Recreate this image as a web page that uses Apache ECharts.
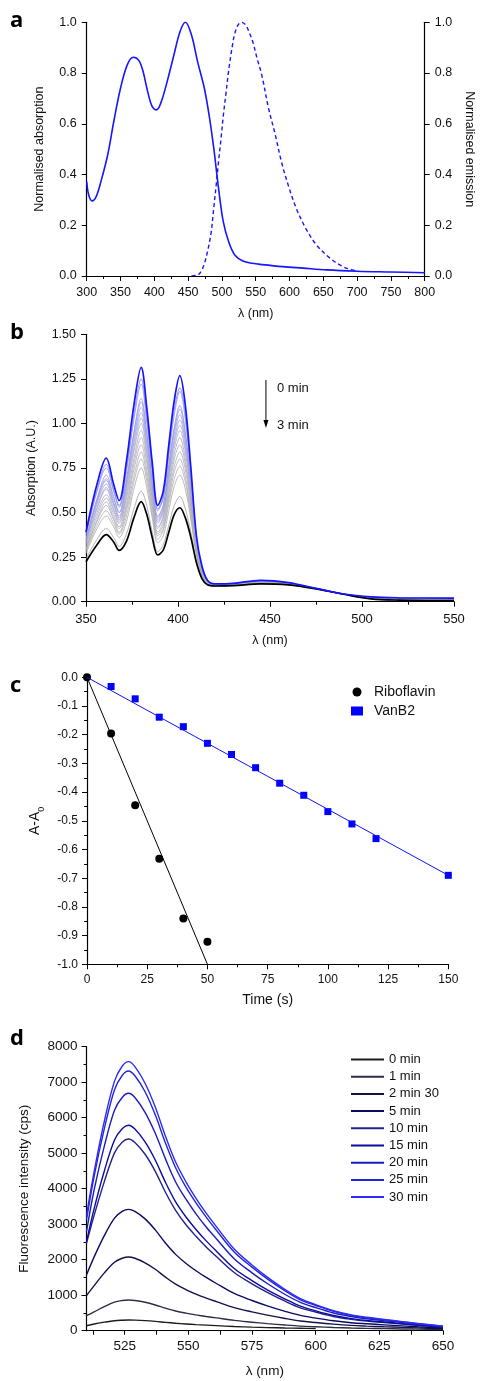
<!DOCTYPE html>
<html><head><meta charset="utf-8">
<script src="https://cdn.jsdelivr.net/npm/echarts@6/dist/echarts.min.js"></script>
<style>html,body{margin:0;padding:0;background:#fff}#c{width:484px;height:1381px}</style>
</head><body><div id="c"></div>
<script>
// ---------- Panel a ----------
const absWl  = [300,303,308,314,321,331,340,350,360,369,377,383,389,395,399,403,407,412,419,429,438,446,455,464,474,481,488,495,502,510,519,531,545,560,590,620,655,700,750,800];
const absVal = [0.372,0.319,0.296,0.313,0.372,0.477,0.608,0.74,0.832,0.862,0.85,0.81,0.74,0.68,0.66,0.655,0.665,0.70,0.766,0.871,0.963,1.0,0.95,0.845,0.74,0.635,0.503,0.346,0.214,0.135,0.083,0.059,0.05,0.045,0.037,0.031,0.024,0.019,0.016,0.013];
const emWl   = [455,462,467,473,479,484,488,492,495,499,502,506,510,515,519,524,529,535,540,546,552,559,569,579,588,598,610,624,640,660,679,693,698];
const emVal  = [0,0.003,0.01,0.04,0.1,0.17,0.27,0.37,0.45,0.55,0.63,0.72,0.81,0.9,0.955,0.99,1.0,0.99,0.963,0.92,0.858,0.792,0.661,0.556,0.451,0.359,0.267,0.188,0.122,0.07,0.037,0.024,0.02];

// ---------- Panel b ----------
const bWl   = [350,356,361,365,368,372,376,380,383,386,389,392,395,398,401,404,407,410,413,416,420,430,445,460,475,490,505,520,550];
const b0min = [0.39,0.66,0.805,0.66,0.567,0.79,1.10,1.315,1.09,0.78,0.54,0.62,0.88,1.13,1.268,1.10,0.75,0.37,0.2,0.12,0.10,0.103,0.12,0.107,0.075,0.043,0.027,0.022,0.02];
const bMid1  = [0.38,0.63,0.77,0.63,0.54,0.75,1.05,1.25,1.04,0.74,0.52,0.59,0.84,1.08,1.20,1.05,0.72,0.36,0.19,0.12,0.10,0.10,0.12,0.105,0.075,0.043,0.026,0.021,0.019];
const bMid2  = [0.37,0.62,0.75,0.62,0.53,0.73,1.02,1.22,1.01,0.73,0.51,0.58,0.82,1.05,1.18,1.02,0.70,0.35,0.19,0.12,0.10,0.10,0.118,0.104,0.075,0.043,0.025,0.02,0.018];
const bMid3  = [0.35,0.58,0.71,0.59,0.50,0.69,0.95,1.14,0.95,0.68,0.48,0.54,0.77,0.98,1.10,0.95,0.66,0.34,0.18,0.115,0.097,0.099,0.116,0.103,0.074,0.043,0.024,0.019,0.017];
const bMid4  = [0.35,0.57,0.69,0.58,0.50,0.67,0.94,1.12,0.94,0.67,0.47,0.54,0.75,0.96,1.08,0.94,0.65,0.33,0.18,0.114,0.096,0.098,0.115,0.102,0.074,0.043,0.023,0.018,0.016];
const bMid5  = [0.34,0.56,0.68,0.56,0.48,0.66,0.91,1.09,0.91,0.66,0.46,0.52,0.73,0.94,1.05,0.91,0.63,0.33,0.18,0.113,0.095,0.097,0.114,0.101,0.074,0.042,0.022,0.017,0.015];
const bMid6  = [0.33,0.55,0.66,0.55,0.47,0.64,0.89,1.06,0.89,0.64,0.45,0.51,0.71,0.91,1.02,0.89,0.62,0.32,0.17,0.112,0.094,0.096,0.113,0.10,0.073,0.042,0.021,0.016,0.014];
const bMid7  = [0.33,0.53,0.64,0.54,0.46,0.62,0.86,1.03,0.86,0.62,0.44,0.50,0.70,0.89,0.99,0.86,0.60,0.31,0.17,0.111,0.093,0.095,0.112,0.10,0.073,0.042,0.02,0.015,0.013];
const bMid8  = [0.32,0.52,0.63,0.52,0.45,0.60,0.84,1.00,0.84,0.60,0.42,0.48,0.68,0.86,0.96,0.84,0.59,0.31,0.17,0.11,0.093,0.095,0.111,0.099,0.073,0.042,0.019,0.014,0.012];
const bMid9  = [0.31,0.50,0.60,0.51,0.44,0.58,0.80,0.96,0.81,0.58,0.41,0.47,0.65,0.83,0.92,0.80,0.57,0.30,0.16,0.108,0.092,0.094,0.11,0.098,0.073,0.042,0.018,0.013,0.011];
const bMid10 = [0.30,0.48,0.58,0.49,0.42,0.55,0.77,0.92,0.78,0.56,0.39,0.45,0.62,0.80,0.88,0.77,0.55,0.29,0.16,0.107,0.091,0.093,0.109,0.098,0.073,0.042,0.018,0.012,0.01];
const bMid11 = [0.29,0.46,0.56,0.47,0.41,0.53,0.74,0.88,0.74,0.54,0.38,0.43,0.60,0.76,0.84,0.74,0.53,0.28,0.16,0.105,0.09,0.092,0.108,0.097,0.073,0.042,0.017,0.011,0.009];
const bMid12 = [0.29,0.45,0.54,0.46,0.39,0.51,0.70,0.84,0.71,0.52,0.37,0.41,0.57,0.73,0.80,0.70,0.50,0.28,0.15,0.104,0.09,0.092,0.107,0.097,0.072,0.042,0.017,0.011,0.009];
const bMid13 = [0.28,0.43,0.51,0.44,0.38,0.48,0.67,0.80,0.68,0.49,0.35,0.40,0.55,0.69,0.76,0.67,0.48,0.27,0.15,0.103,0.089,0.091,0.106,0.096,0.072,0.042,0.016,0.01,0.008];
const bMid14 = [0.27,0.41,0.48,0.42,0.36,0.45,0.63,0.75,0.64,0.47,0.33,0.37,0.51,0.65,0.71,0.63,0.46,0.26,0.15,0.101,0.089,0.091,0.105,0.096,0.072,0.042,0.016,0.01,0.008];
const bMid15 = [0.24,0.35,0.41,0.36,0.31,0.38,0.52,0.62,0.54,0.39,0.28,0.32,0.43,0.54,0.59,0.52,0.39,0.23,0.14,0.097,0.088,0.09,0.102,0.095,0.072,0.042,0.016,0.009,0.007];
const b3min = [0.224,0.32,0.376,0.335,0.288,0.34,0.47,0.561,0.49,0.36,0.262,0.29,0.39,0.49,0.527,0.47,0.36,0.22,0.13,0.095,0.088,0.09,0.10,0.094,0.072,0.042,0.016,0.009,0.006];
const bMidColors = ['#7878f2','#8686ee','#9292ea','#9898e6','#9e9ee0','#a2a2da','#a6a6d4','#a9a9cc','#aaaac4','#ababbe','#acacb8','#adadb4','#aeaeb0','#aaaaaa','#a0a0a0'];

// ---------- Panel c ----------
const riboTime = [0,10,20,30,40,50];
const riboVal  = [0,-0.196,-0.446,-0.632,-0.84,-0.921];
const vanTime  = [10,20,30,40,50,60,70,80,90,100,110,120,150];
const vanVal   = [-0.032,-0.075,-0.139,-0.172,-0.23,-0.269,-0.315,-0.369,-0.411,-0.468,-0.511,-0.562,-0.69];
const riboFitX = [0,50];
const riboFitY = [0,-1.0];
const vanFitX  = [0,150];
const vanFitY  = [0,-0.69];

// ---------- Panel d ----------
const dWl   = [510,513,517,521,524,526.5,529,533,537,541,545,549,553,557,561,568,575,581,588,594,600,607,614,620,627,634,640,650];
const d0    = [140,190,240,282,296,301,297,283,262,235,210,190,172,157,143,118,100,88,76,68,60];
const d1    = [422,530,680,805,850,865,850,800,725,635,555,495,445,400,360,290,240,200,160,130,110,90,75,65,58,50,45,35];
const d2m30 = [990,1270,1630,1930,2040,2076,2040,1910,1730,1510,1310,1160,1030,920,820,650,530,440,345,275,230,185,150,130,110,95,80,55];
const d5    = [1570,2080,2680,3170,3360,3419,3360,3150,2840,2470,2150,1900,1690,1500,1330,1050,850,700,545,430,355,280,225,195,165,135,110,75];
const d10   = [2460,3250,4200,5010,5310,5400,5300,4970,4490,3900,3390,2990,2660,2360,2090,1640,1320,1080,830,645,525,400,320,270,230,185,150,95];
const d15   = [2510,3440,4500,5370,5690,5786,5680,5320,4810,4180,3630,3210,2850,2530,2240,1750,1410,1150,890,690,560,430,340,290,245,200,160,100];
const d20   = [2790,3970,5200,6210,6570,6687,6570,6150,5560,4840,4190,3710,3290,2920,2590,2030,1630,1330,1020,800,650,500,400,335,280,230,180,115];
const d25   = [3120,4350,5690,6790,7190,7316,7180,6730,6080,5290,4590,4050,3600,3200,2830,2220,1790,1460,1120,870,710,545,430,365,305,250,200,125];
const d30   = [3250,4480,5900,7030,7450,7579,7440,6970,6300,5480,4750,4200,3730,3310,2930,2300,1850,1510,1160,905,735,564,445,378,318,257,205,130];
const dNames  = ['0 min','1 min','2 min 30','5 min','10 min','15 min','20 min','25 min','30 min'];
const dColors = ['#1c1c1c','#2e2e48','#12124a','#0a0a62','#22228a','#0c0ca0','#1c1cbe','#2424dc','#2c2cf6'];
const dXLabels = [525,550,575,600,625,650];
const dXTicks  = [512.5,525,537.5,550,562.5,575,587.5,600,612.5,625,637.5,650];

// ---------- build ----------
const FONT = '"Liberation Sans", Arial, sans-serif';
const zip = (xs, ys) => ys.map((y, i) => [xs[i], y]);

function axisBase(o) {
  return Object.assign({
    axisLine: {show: true, onZero: false, lineStyle: {color: '#000', width: 1.2}},
    axisTick: {show: true, length: 5, lineStyle: {color: '#000', width: 1}},
    minorTick: {show: false},
    splitLine: {show: false},
    axisLabel: {color: '#111', fontFamily: FONT, fontSize: 12.5},
    nameTextStyle: {color: '#111', fontFamily: FONT, fontSize: 12.5},
    nameLocation: 'middle'
  }, o);
}

const chart = echarts.init(document.getElementById('c'), null, {renderer: 'canvas'});

const grids = [
  {left: 86.7, top: 22.3, width: 350, height: 253.7},
  {left: 86, top: 334.3, width: 368, height: 267.4},
  {left: 87, top: 677.3, width: 361.3, height: 287},
  {left: 86.5, top: 1046.7, width: 356.5, height: 284}
];

const mt = {show: true, splitNumber: 2, length: 3, lineStyle: {color: '#000'}};
const xAxes = [
  axisBase({type: 'value', gridIndex: 0, min: 300, max: 800, interval: 50, name: 'λ (nm)', nameGap: 31, minorTick: mt,
    axisLabel: {color: '#111', fontFamily: FONT, fontSize: 12.5, margin: 10}}),
  axisBase({type: 'value', gridIndex: 1, min: 350, max: 550, interval: 50, name: 'λ (nm)', nameGap: 32, minorTick: mt,
    axisLabel: {color: '#111', fontFamily: FONT, fontSize: 13, margin: 11}}),
  axisBase({type: 'value', gridIndex: 2, min: 0, max: 150, interval: 25, name: 'Time (s)', nameGap: 29, minorTick: mt,
    axisLabel: {color: '#111', fontFamily: FONT, fontSize: 12, margin: 9},
    nameTextStyle: {color: '#111', fontFamily: FONT, fontSize: 14}}),
  axisBase({type: 'value', gridIndex: 3, min: 510, max: 650, name: 'λ (nm)', nameGap: 34,
    axisTick: {show: true, length: 4, customValues: dXTicks, lineStyle: {color: '#000'}},
    axisLabel: {color: '#111', fontFamily: FONT, fontSize: 13.5, margin: 9, customValues: dXLabels},
    nameTextStyle: {color: '#111', fontFamily: FONT, fontSize: 13.5}})
];

const yAxes = [
  axisBase({type: 'value', gridIndex: 0, min: 0, max: 1, interval: 0.2, name: 'Normalised absorption', nameGap: 41,
    axisLabel: {color: '#111', fontFamily: FONT, fontSize: 12.5, margin: 10, formatter: v => v.toFixed(1)}}),
  axisBase({type: 'value', gridIndex: 0, position: 'right', min: 0, max: 1, interval: 0.2, name: 'Normalised emission', nameGap: 35, nameRotate: -90,
    axisLabel: {color: '#111', fontFamily: FONT, fontSize: 12.5, margin: 10, formatter: v => v.toFixed(1)}}),
  axisBase({type: 'value', gridIndex: 1, min: 0, max: 1.5, interval: 0.25, name: 'Absorption (A.U.)', nameGap: 48,
    axisLabel: {color: '#111', fontFamily: FONT, fontSize: 12.5, margin: 10, formatter: v => v.toFixed(2)}}),
  axisBase({type: 'value', gridIndex: 2, min: -1, max: 0, interval: 0.1, name: 'A-A{s|0}', nameGap: 35, minorTick: mt,
    axisLabel: {color: '#111', fontFamily: FONT, fontSize: 12, margin: 9, formatter: v => (Math.abs(v) < 1e-9 ? '0.0' : v.toFixed(1))},
    nameTextStyle: {color: '#111', fontFamily: FONT, fontSize: 14, rich: {s: {fontSize: 9, fontFamily: FONT, color: '#111', verticalAlign: 'bottom', padding: [0,0,-4,0]}}}}),
  axisBase({type: 'value', gridIndex: 3, min: 0, max: 8000, interval: 1000, name: 'Fluorescence intensity (cps)', nameGap: 55, minorTick: mt,
    axisLabel: {color: '#111', fontFamily: FONT, fontSize: 13.5, margin: 9, formatter: v => String(v)},
    nameTextStyle: {color: '#111', fontFamily: FONT, fontSize: 13.5}})
];

const SM = 0.35;
const series = [];
// a
series.push({type: 'line', name: 'abs', xAxisIndex: 0, yAxisIndex: 0, data: zip(absWl, absVal), symbol: 'none',
  smooth: SM, lineStyle: {color: '#1616ff', width: 1.6}, silent: true});
series.push({type: 'line', name: 'em', xAxisIndex: 0, yAxisIndex: 1, data: zip(emWl, emVal), symbol: 'none',
  smooth: SM, lineStyle: {color: '#1616ff', width: 1.4, type: [4, 3]}, silent: true});
// b
const bMids = [bMid1,bMid2,bMid3,bMid4,bMid5,bMid6,bMid7,bMid8,bMid9,bMid10,bMid11,bMid12,bMid13,bMid14,bMid15];
bMids.forEach((arr, i) => {
  series.push({type: 'line', name: 'b_mid' + (i + 1), xAxisIndex: 1, yAxisIndex: 2, data: zip(bWl, arr), symbol: 'none',
    smooth: SM, lineStyle: {color: bMidColors[i], width: 0.8}, silent: true});
});
series.push({type: 'line', name: 'b_3min', xAxisIndex: 1, yAxisIndex: 2, data: zip(bWl, b3min), symbol: 'none',
  smooth: SM, lineStyle: {color: '#000', width: 1.7}, silent: true});
series.push({type: 'line', name: 'b_0min', xAxisIndex: 1, yAxisIndex: 2, data: zip(bWl, b0min), symbol: 'none',
  smooth: SM, lineStyle: {color: '#1414ff', width: 1.7}, silent: true});
// c
series.push({type: 'line', name: 'riboFit', xAxisIndex: 2, yAxisIndex: 3, data: zip(riboFitX, riboFitY), symbol: 'none',
  lineStyle: {color: '#000', width: 1}, silent: true});
series.push({type: 'line', name: 'vanFit', xAxisIndex: 2, yAxisIndex: 3, data: zip(vanFitX, vanFitY), symbol: 'none',
  lineStyle: {color: '#1010ff', width: 1}, silent: true});
series.push({type: 'scatter', name: 'Riboflavin', xAxisIndex: 2, yAxisIndex: 3, data: zip(riboTime, riboVal), symbol: 'circle', symbolSize: 8,
  itemStyle: {color: '#000', opacity: 1}, silent: true});
series.push({type: 'scatter', name: 'VanB2', xAxisIndex: 2, yAxisIndex: 3, data: zip(vanTime, vanVal), symbol: 'rect', symbolSize: 7,
  itemStyle: {color: '#0000ff', opacity: 1}, silent: true});
// d
const dData = [d0, d1, d2m30, d5, d10, d15, d20, d25, d30];
dData.forEach((arr, i) => {
  series.push({type: 'line', name: dNames[i], xAxisIndex: 3, yAxisIndex: 4, data: zip(dWl, arr), symbol: 'none',
    smooth: SM, lineStyle: {color: dColors[i], width: 1.4}, itemStyle: {color: dColors[i]}, silent: true});
});

const option = {
  animation: false,
  backgroundColor: '#fff',
  textStyle: {fontFamily: FONT},
  grid: grids,
  xAxis: xAxes,
  yAxis: yAxes,
  series: series,
  legend: [
    {data: ['Riboflavin', 'VanB2'], orient: 'vertical', left: 346, top: 680, itemGap: 5, itemWidth: 12, itemHeight: 9,
      textStyle: {fontFamily: FONT, fontSize: 14, color: '#111', padding: [0, 0, 0, 6]}, selectedMode: false},
    {data: dNames, orient: 'vertical', left: 346, top: 1048, itemGap: 4.2, itemWidth: 33, itemHeight: 14,
      textStyle: {fontFamily: FONT, fontSize: 13, color: '#111'}, selectedMode: false, icon: 'path://M0,6 L33,6 L33,8 L0,8 Z'}
  ]
};
chart.setOption(option);

// panel letters + annotation of panel b
const p1 = chart.convertToPixel({xAxisIndex: 1, yAxisIndex: 2}, [447.8, 1.244]);
const p2 = chart.convertToPixel({xAxisIndex: 1, yAxisIndex: 2}, [447.8, 0.975]);
const t0 = chart.convertToPixel({xAxisIndex: 1, yAxisIndex: 2}, [453.8, 1.199]);
const t3 = chart.convertToPixel({xAxisIndex: 1, yAxisIndex: 2}, [453.8, 0.991]);
const letterFont = 'bold 22px "Open Sans", "Liberation Sans", sans-serif';
chart.setOption({
  graphic: [
    {type: 'text', left: 10, top: 10, style: {text: 'a', font: letterFont, fill: '#000'}},
    {type: 'text', left: 10, top: 322, style: {text: 'b', font: letterFont, fill: '#000'}},
    {type: 'text', left: 10, top: 675, style: {text: 'c', font: letterFont, fill: '#000'}},
    {type: 'text', left: 10, top: 1028, style: {text: 'd', font: letterFont, fill: '#000'}},
    {type: 'line', shape: {x1: p1[0], y1: p1[1], x2: p2[0], y2: p2[1] - 6}, style: {stroke: '#000', lineWidth: 1}},
    {type: 'polygon', shape: {points: [[p2[0] - 2.5, p2[1] - 8], [p2[0] + 2.5, p2[1] - 8], [p2[0], p2[1]]]}, style: {fill: '#000'}},
    {type: 'text', x: t0[0], y: t0[1], style: {text: '0 min', font: '13px ' + FONT, fill: '#111', verticalAlign: 'middle', align: 'left'}},
    {type: 'text', x: t3[0], y: t3[1], style: {text: '3 min', font: '13px ' + FONT, fill: '#111', verticalAlign: 'middle', align: 'left'}}
  ]
});
</script></body></html>
